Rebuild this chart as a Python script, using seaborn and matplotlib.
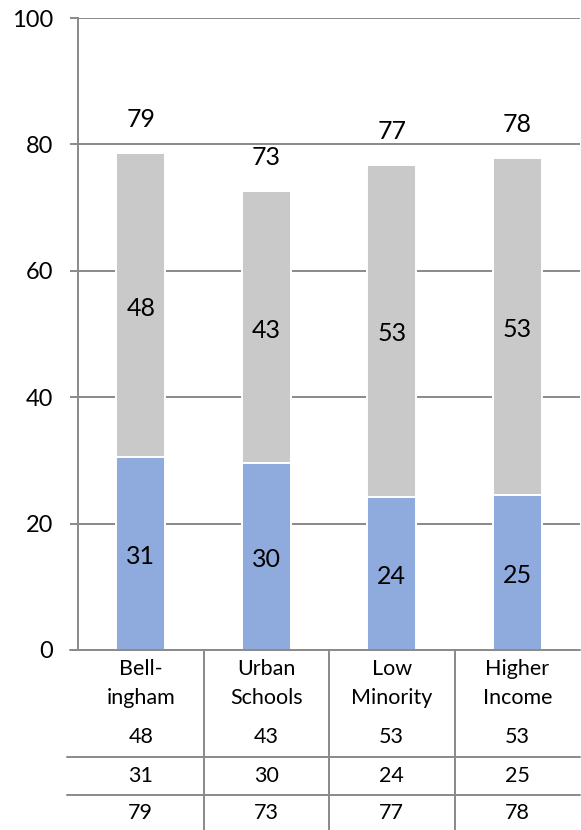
import matplotlib
matplotlib.use("Agg")
import matplotlib.pyplot as plt
import seaborn as sns
import pandas as pd

# -------------------------------
# Data
# -------------------------------
categories = ["Bell-\ningham", "Urban\nSchools", "Low\nMinority", "Higher\nIncome"]
blue_vals = [30.6, 29.6, 24.2, 24.6]
gray_vals = [48.0, 43.0, 52.6, 53.2]
totals = [b + g for b, g in zip(blue_vals, gray_vals)]

df = pd.DataFrame({"cat": categories, "blue": blue_vals, "gray": gray_vals, "total": totals})

# -------------------------------
# Style
# -------------------------------
sns.set_style("white")
plt.rcParams["font.family"] = ["Lato", "DejaVu Sans"]
plt.rcParams["text.color"] = "black"
plt.rcParams["ytick.labelcolor"] = "black"

BLUE = "#8faadc"
GRAY = "#c9c9c9"
LINE = "#898989"

fig = plt.figure(figsize=(5.81, 8.30), dpi=100)
ax = fig.add_axes([0.1343, 0.2169, 0.8640, 0.7614])

# gridlines
for yv in [20, 40, 60, 80, 100]:
    ax.axhline(yv, color=LINE, lw=1.4, zorder=0)

# stacked bars: total (gray) first, blue on top of it
sns.barplot(data=df, x="cat", y="total", color=GRAY, width=0.39,
            edgecolor="white", linewidth=1.4, saturation=1, ax=ax, zorder=2)
sns.barplot(data=df, x="cat", y="blue", color=BLUE, width=0.39,
            edgecolor="white", linewidth=1.4, saturation=1, ax=ax, zorder=3)

ax.set_ylim(0, 100)
ax.set_xlim(-0.5, 3.5)
ax.set_yticks([0, 20, 40, 60, 80, 100])
ax.set_xlabel("")
ax.set_ylabel("")
ax.set_xticks([])
ax.tick_params(axis="y", labelsize=17, length=6, width=1.4, color=LINE, pad=12, left=True,
               labelcolor="black")

for s in ["top", "right"]:
    ax.spines[s].set_visible(False)
ax.spines["left"].set_color(LINE)
ax.spines["left"].set_linewidth(1.4)
ax.spines["bottom"].set_visible(False)
ax.plot([-0.565, 3.5], [0, 0], color=LINE, lw=1.4, clip_on=False, zorder=4)

# value labels
for i in range(len(categories)):
    ax.text(i, blue_vals[i] / 2 - 0.5, f"{blue_vals[i]:.0f}", ha="center", va="center", fontsize=18, zorder=5)
    ax.text(i, blue_vals[i] + gray_vals[i] / 2 - 0.5, f"{gray_vals[i]:.0f}", ha="center", va="center",
            fontsize=18, zorder=5)
    ax.text(i, totals[i] + 5.3, f"{totals[i]:.0f}", ha="center", va="center", fontsize=18, zorder=5)

# -------------------------------
# Data table under the chart
# -------------------------------
y_bottom = -28.5
for xv in [0.5, 1.5, 2.5]:
    ax.plot([xv, xv], [0, y_bottom], color=LINE, lw=1.4, clip_on=False)
for yv in [-16.9, -22.9]:
    ax.plot([-0.59, 3.5], [yv, yv], color=LINE, lw=1.4, clip_on=False)

for i, c in enumerate(categories):
    ax.text(i, -5.3, c, ha="center", va="center", fontsize=15.5, linespacing=1.6, clip_on=False)
    ax.text(i, -13.8, f"{gray_vals[i]:.0f}", ha="center", va="center", fontsize=15.5, clip_on=False)
    ax.text(i, -19.9, f"{blue_vals[i]:.0f}", ha="center", va="center", fontsize=15.5, clip_on=False)
    ax.text(i, -25.8, f"{totals[i]:.0f}", ha="center", va="center", fontsize=15.5, clip_on=False)

fig.savefig("out.png", dpi=100)
